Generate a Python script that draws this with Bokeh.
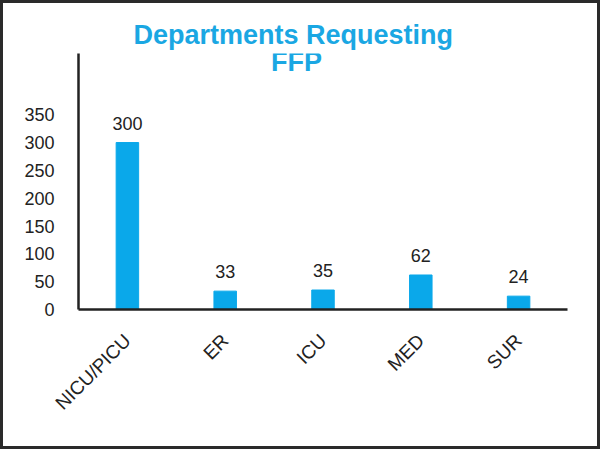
from bokeh.plotting import figure
from bokeh.models import (ColumnDataSource, Range1d, FactorRange, FixedTicker,
                          LabelSet, Label, Title)
from bokeh.core.properties import value
from bokeh.embed import file_html
from bokeh.resources import INLINE
import math

# ---- data ----
departments = ["NICU/PICU", "ER", "ICU", "MED", "SUR"]
requests = [300, 33, 35, 62, 24]
y_ticks = [0, 50, 100, 150, 200, 250, 300, 350]
title_lines = ["Departments Requesting", "FFP"]

BLUE = "#0AA8EA"
TITLE_BLUE = "#1AA7E3"
DARK = "#222222"
FONT = "Liberation Sans"

src = ColumnDataSource(dict(dept=departments, val=requests,
                            lab=[str(v) for v in requests]))

p = figure(x_range=FactorRange(*departments), y_range=Range1d(0, 460),
           width=600, height=449, output_backend="svg", toolbar_location=None,
           min_border_left=75, min_border_right=36, min_border_top=50,
           min_border_bottom=143)
p.styles = {"border": "3px solid #2a2a2a"}
p.outline_line_color = None
p.background_fill_color = "white"
p.border_fill_color = "white"
p.xgrid.grid_line_color = None
p.ygrid.grid_line_color = None

p.vbar(x="dept", top="val", width=0.23, color=BLUE, source=src)

p.add_layout(LabelSet(x="dept", y="val", text="lab", source=src,
                      text_align="center", text_baseline="bottom", y_offset=13,
                      text_font=value(FONT), text_font_size="18px",
                      text_color=DARK))

# axes
p.yaxis.ticker = FixedTicker(ticks=y_ticks)
for ax in (p.xaxis[0], p.yaxis[0]):
    ax.axis_line_color = DARK
    ax.axis_line_width = 2.5
    ax.major_tick_line_color = None
    ax.minor_tick_line_color = None
    ax.major_label_text_font = FONT
    ax.major_label_text_color = DARK
p.yaxis.major_label_text_font_size = "18px"
p.xaxis.major_label_text_font_size = "19px"
p.yaxis.major_label_standoff = 18
p.xaxis.major_label_standoff = 22
p.xaxis.major_label_orientation = math.pi / 4

# title: first line in the top border, second line inside the frame
p.add_layout(Title(text=title_lines[0], align="left", offset=55,
                   text_font=FONT, text_font_style="bold",
                   text_font_size="27px", text_color=TITLE_BLUE,
                   standoff=8), "above")
p.add_layout(Label(x=218, y=248, x_units="screen", y_units="screen",
                   text=title_lines[1], text_align="center",
                   text_baseline="alphabetic",
                   text_font=FONT, text_font_style="bold",
                   text_font_size="27px", text_color=TITLE_BLUE))

open("out.html", "w").write(file_html(p, INLINE))
